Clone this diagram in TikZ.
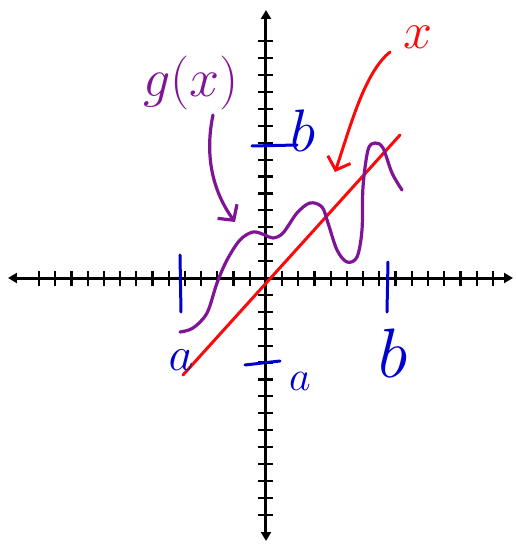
\RequirePackage{fix-cm}
\documentclass[tikz,border=0pt]{standalone}
\usepackage{amsmath,amssymb}
\usetikzlibrary{arrows.meta}
\definecolor{PenRed}{RGB}{250,10,10}
\definecolor{PenPurple}{RGB}{128,20,150}
\definecolor{PenBlue}{RGB}{0,0,210}
\tikzset{
  axisline/.style={draw=black,line width=3pt,{Triangle[length=9pt,width=10pt]}-{Triangle[length=9pt,width=10pt]}},
  tickmark/.style={draw=black,line width=2.2pt},
  redpen/.style={draw=PenRed,line width=3pt,line cap=round},
  purplepen/.style={draw=PenPurple,line width=3.2pt,line cap=round,line join=round},
  bluepen/.style={draw=PenBlue,line width=3pt,line cap=round},
  penarrow/.style={-{Straight Barb[length=11pt,width=24pt]}},
  lbl/.style={inner sep=0pt,font=\fontsize{#1}{#1}\selectfont},
}

\begin{document}
\begin{tikzpicture}[x=1pt,y=1pt]
    \useasboundingbox (-266,-266) rectangle (249,278);
    % axes with ticks
    \draw[axisline] (-258,0) -- (247,0);
    \draw[axisline] (0,-263) -- (0,268);
    \foreach \i in {1,...,14} {
      \draw[tickmark] (\i*16.2,-7.5) -- (\i*16.2,7.5);
      \draw[tickmark] (-\i*16.2,-7.5) -- (-\i*16.2,7.5);
      \draw[tickmark] (-7.5,\i*16.9) -- (7.5,\i*16.9);
      \draw[tickmark] (-7.5,-\i*16.9) -- (7.5,-\i*16.9);
    }
    % the line y = x
    \coordinate (rA) at (-83,-97);
    \coordinate (rB) at (134,143);
    \draw[redpen] (rA) -- (rB);
    \node[lbl=52,text=PenRed] (xlab) at (152,241) {$x$};
    \coordinate (xfrom) at (124,226);
    \coordinate (xto) at (69,106);
    \draw[redpen,penarrow] (xfrom) .. controls (98,205) and (84,150) .. (xto);
    % g(x)
    \draw[purplepen] plot[smooth,tension=0.55] coordinates {(-86,-54) (-73,-50) (-59,-35) (-49,-5) (-39,18) (-26,38) (-13,46) (-1,43) (7,40) (17,45) (31,65) (44,75) (56,71) (62,55) (71,28) (81,16) (91,21) (96,48) (97,91) (102,128) (109,135) (117,130) (126,105) (136,88)};
    \node[lbl=54,text=PenPurple] (glab) at (-75,195) {$g(x)$};
    \coordinate (gfrom) at (-53,163);
    \coordinate (gto) at (-31,56);
    \draw[purplepen,penarrow] (gfrom) .. controls (-62,120) and (-52,85) .. (gto);
    % interval marks
    \coordinate (xa1) at (-86,23); \coordinate (xa2) at (-85,-34);
    \coordinate (xb1) at (122,16); \coordinate (xb2) at (121,-34);
    \coordinate (ya1) at (-21,-87); \coordinate (ya2) at (14,-83);
    \coordinate (yb1) at (-14,132); \coordinate (yb2) at (31,133);
    \draw[bluepen] (xa1) -- (xa2);
    \draw[bluepen] (xb1) -- (xb2);
    \draw[bluepen] (ya1) -- (ya2);
    \draw[bluepen] (yb1) -- (yb2);
    \node[lbl=48,text=PenBlue] (xalab) at (-85,-82) {$a$};
    \node[lbl=70,text=PenBlue] (xblab) at (127,-75) {$b$};
    \node[lbl=42,text=PenBlue] (yalab) at (34,-103) {$a$};
    \node[lbl=60,text=PenBlue] (yblab) at (37,147) {$b$};
\end{tikzpicture}
\end{document}
